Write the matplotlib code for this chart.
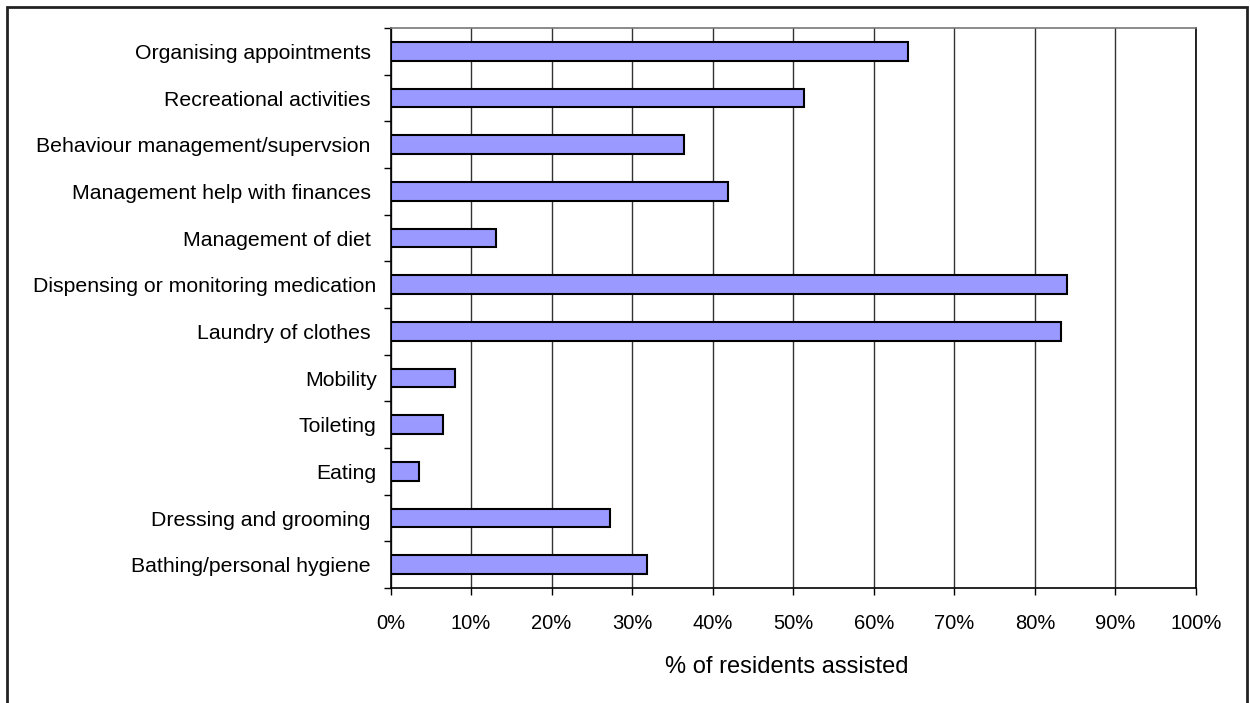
import matplotlib
matplotlib.use("Agg")
import matplotlib.pyplot as plt
from matplotlib.patches import Rectangle
from matplotlib.ticker import FixedLocator, PercentFormatter

categories = [
    "Organising appointments ",
    "Recreational activities ",
    "Behaviour management/supervsion ",
    "Management help with finances ",
    "Management of diet ",
    "Dispensing or monitoring medication",
    "Laundry of clothes ",
    "Mobility",
    "Toileting",
    "Eating",
    "Dressing and grooming ",
    "Bathing/personal hygiene ",
]
values = [64.2, 51.3, 36.4, 41.9, 13.1, 84.0, 83.3, 8.0, 6.5, 3.5, 27.3, 31.8]
x_ticks = [0, 10, 20, 30, 40, 50, 60, 70, 80, 90, 100]
x_label = "% of residents assisted  "

plt.rcParams['font.family'] = ['Liberation Sans', 'DejaVu Sans']

W, H = 1250, 703
fig = plt.figure(figsize=(W / 100, H / 100), dpi=100)
ax = fig.add_axes([390.5 / W, 1 - 588 / H, (1196 - 390.5) / W, (588 - 28) / H])

n = len(categories)
ypos = list(range(n))
ax.barh(ypos, values, height=0.4, color="#9999FF", edgecolor="black", linewidth=1.5, zorder=3)
ax.set_ylim(n - 0.5, -0.5)
ax.set_xlim(0, 100)

ax.set_yticks(ypos)
ax.set_yticklabels(categories, fontsize=15.3)
ax.tick_params(axis="y", which="major", length=0, pad=10)
ax.yaxis.set_minor_locator(FixedLocator([i - 0.5 for i in range(n + 1)]))
ax.tick_params(axis="y", which="minor", length=5, width=1, color="black", direction="out")

ax.set_xticks(x_ticks)
ax.xaxis.set_major_formatter(PercentFormatter(decimals=0))
ax.tick_params(axis="x", which="major", length=5, width=1, color="black", direction="out",
               labelsize=14.5, pad=14)
ax.set_xlabel(x_label, fontsize=17, labelpad=16)

ax.grid(axis="x", color="#333333", linewidth=1, zorder=0)
ax.set_axisbelow(True)
for side in ["left", "bottom", "right"]:
    ax.spines[side].set_color("black")
    ax.spines[side].set_linewidth(1.2)
ax.spines["top"].set_color("#777777")
ax.spines["top"].set_linewidth(1.2)

fig.add_artist(Rectangle((6.5 / W, -0.05), (1247 - 6.5) / W, 1.05 - 7 / H,
                         transform=fig.transFigure, fill=False,
                         edgecolor="#222222", linewidth=2))

fig.savefig("out.png", dpi=100)
